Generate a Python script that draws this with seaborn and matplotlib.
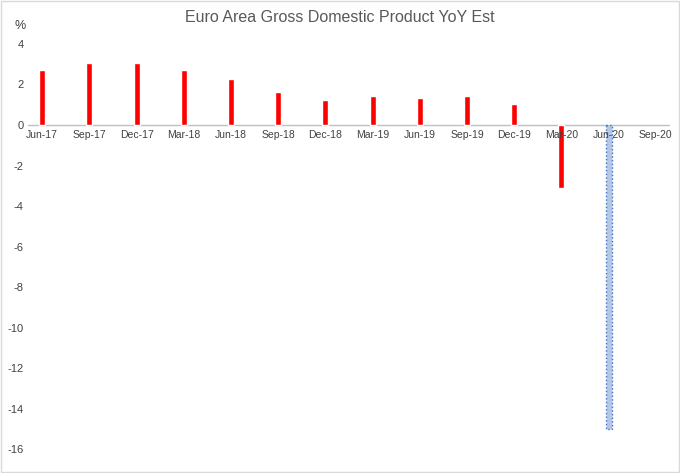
import numpy as np
import pandas as pd
import matplotlib
matplotlib.use('Agg')
import matplotlib.pyplot as plt
import seaborn as sns

# Data
quarters = ['Jun-17', 'Sep-17', 'Dec-17', 'Mar-18', 'Jun-18', 'Sep-18', 'Dec-18',
            'Mar-19', 'Jun-19', 'Sep-19', 'Dec-19', 'Mar-20', 'Jun-20', 'Sep-20']
gdp_yoy = [2.7, 3.05, 3.05, 2.7, 2.25, 1.65, 1.25, 1.45, 1.35, 1.45, 1.05, -3.1, -15.0, np.nan]
bar_colors = ['#ff0000'] * 12 + ['#b4c7e7', '#ff0000']

df = pd.DataFrame({'quarter': quarters, 'gdp': gdp_yoy})

sns.set_style('white')
plt.rcParams['font.family'] = ['Liberation Sans', 'DejaVu Sans']
plt.rcParams['axes.unicode_minus'] = False

fig = plt.figure(figsize=(6.8, 4.73), dpi=100)
ax = fig.add_axes([28 / 680, 1 - 449 / 473, 642 / 680, 405 / 473])

sns.barplot(data=df, x='quarter', y='gdp', hue='quarter', palette=bar_colors,
            legend=False, width=0.13, saturation=1, ax=ax)

# estimate bar: light blue with dotted outline
est = ax.patches[12]
est.set_edgecolor('#4472c4')
est.set_linestyle(':')
est.set_linewidth(1)

ax.set_xlim(-0.3, 13.3)
ax.set_ylim(-16, 4)
ax.set_yticks(range(-16, 5, 2))
ax.tick_params(axis='y', labelsize=8, colors='#404040', length=0, pad=3)
ax.set_xticks([])
ax.set_xlabel('')
ax.set_ylabel('')
for s in ax.spines.values():
    s.set_visible(False)
ax.axhline(0, color='#bfbfbf', lw=1, zorder=0)

for i, q in enumerate(quarters):
    ax.text(i, -0.25, q, ha='center', va='top', fontsize=7.5, color='#404040')

fig.text(20 / 680, 1 - 26 / 473, '%', ha='center', va='center', fontsize=9, color='#404040')
fig.text(0.5, 1 - 18 / 473, 'Euro Area Gross Domestic Product YoY Est',
         ha='center', va='center', fontsize=11.5, color='#595959')

# outer chart border
fig.patches.append(plt.Rectangle((0.002, 0.002), 0.996, 0.996, transform=fig.transFigure,
                                 fill=False, edgecolor='#d9d9d9', lw=1))

fig.savefig('out.png', dpi=100)
